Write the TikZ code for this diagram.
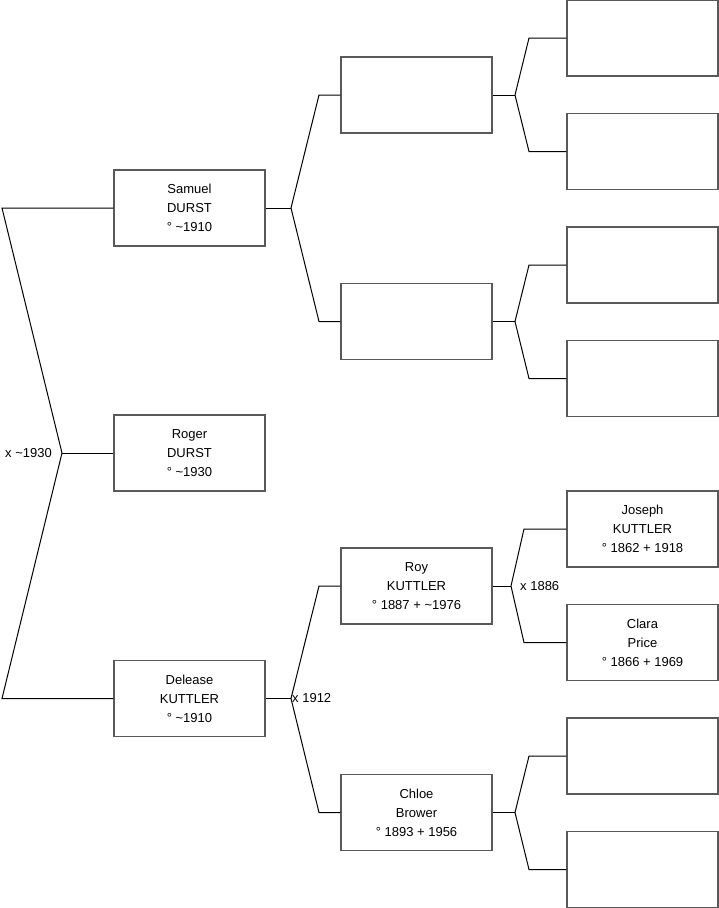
\documentclass[tikz,border=0pt]{standalone}
\usepackage{fontspec}
\setmainfont{Liberation Sans}
\begin{document}
\begin{tikzpicture}[x=1pt, y=-1pt,
    every node/.style={font=\fontsize{13}{19}\selectfont},
    person/.style={draw=black!65, line width=1.1pt, minimum width=151pt, minimum height=76pt, inner sep=0pt, align=center},
    link/.style={line width=1pt}]
    \useasboundingbox (0,0) rectangle (719,908);
    % generation 1
    \node[person] (samuel) at (189.5,208) {Samuel\\DURST\\° \textasciitilde1910};
    \node[person] (roger) at (189.5,453) {Roger\\DURST\\° \textasciitilde1930};
    \node[person] (delease) at (189.5,698.5) {Delease\\KUTTLER\\° \textasciitilde1910};
    % generation 2
    \node[person] (pa) at (416.5,95) {};
    \node[person] (pb) at (416.5,321.5) {};
    \node[person] (roy) at (416.5,586) {Roy\\KUTTLER\\° 1887 + \textasciitilde1976};
    \node[person] (chloe) at (416.5,812.5) {Chloe\\Brower\\° 1893 + 1956};
    % generation 3
    \node[person] (qa) at (642.5,38) {};
    \node[person] (qb) at (642.5,151.5) {};
    \node[person] (qc) at (642.5,265) {};
    \node[person] (qd) at (642.5,378.5) {};
    \node[person] (joseph) at (642.5,529) {Joseph\\KUTTLER\\° 1862 + 1918};
    \node[person] (clara) at (642.5,642.5) {Clara\\Price\\° 1866 + 1969};
    \node[person] (qg) at (642.5,756) {};
    \node[person] (qh) at (642.5,869.5) {};
    % forks
    \coordinate (f0) at (62,453);
    \coordinate (fs) at (291,208);
    \coordinate (fd) at (291,698.5);
    \coordinate (fa) at (515,95);
    \coordinate (fb) at (515,321.5);
    \coordinate (fr) at (511,586);
    \coordinate (fc) at (515,812.5);
    \draw[link] (roger.west) -- (f0);
    \draw[link] (f0) -- ++(-60,-245) -- (samuel.west);
    \draw[link] (f0) -- ++(-60,245.5) -- (delease.west);
    \node[anchor=east, inner sep=1pt] at (53,453) {x \textasciitilde1930};
    \draw[link] (samuel.east) -- (fs);
    \draw[link] (fs) -- ++(28,-113) -- (pa.west);
    \draw[link] (fs) -- ++(28,113.5) -- (pb.west);
    \draw[link] (delease.east) -- (fd);
    \draw[link] (fd) -- ++(28,-112.5) -- (roy.west);
    \draw[link] (fd) -- ++(28,114) -- (chloe.west);
    \node[anchor=west, inner sep=1pt] at (fd) {x 1912};
    \draw[link] (pa.east) -- (fa);
    \draw[link] (fa) -- ++(14,-57) -- (qa.west);
    \draw[link] (fa) -- ++(14,56.5) -- (qb.west);
    \draw[link] (pb.east) -- (fb);
    \draw[link] (fb) -- ++(14,-56.5) -- (qc.west);
    \draw[link] (fb) -- ++(14,57) -- (qd.west);
    \draw[link] (roy.east) -- (fr);
    \draw[link] (fr) -- ++(13,-57) -- (joseph.west);
    \draw[link] (fr) -- ++(13,56.5) -- (clara.west);
    \node[anchor=west, inner sep=1pt] at (519,586) {x 1886};
    \draw[link] (chloe.east) -- (fc);
    \draw[link] (fc) -- ++(14,-56.5) -- (qg.west);
    \draw[link] (fc) -- ++(14,57) -- (qh.west);
\end{tikzpicture}
\end{document}
